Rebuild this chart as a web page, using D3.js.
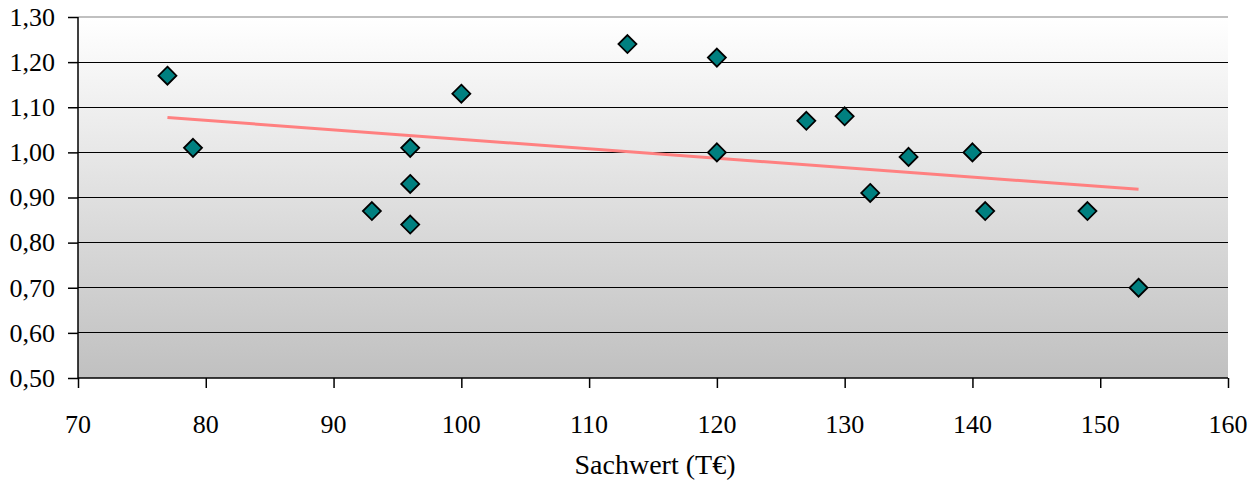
<!DOCTYPE html>
<html><head><meta charset="utf-8">
<script src="https://cdn.jsdelivr.net/npm/d3@7"></script>
<style>body{margin:0;background:#fff;}</style>
</head><body>
<svg id="c" width="1258" height="482"></svg>
<script>
const sachwert = [77,79,93,96,96,96,100,113,120,120,127,130,132,135,140,141,149,153];
const faktor   = [1.17,1.01,0.87,1.01,0.93,0.84,1.13,1.24,1.21,1.00,1.07,1.08,0.91,0.99,1.00,0.87,0.87,0.70];
const xTicks = [70,80,90,100,110,120,130,140,150,160];
const yTicks = [0.5,0.6,0.7,0.8,0.9,1.0,1.1,1.2,1.3];
const xTitle = "Sachwert (T€)";

const FONT = "Liberation Serif";
const svg = d3.select("#c");
const L=78, R=1228, T=17, B=378;
const x = d3.scaleLinear().domain([70,160]).range([L,R]);
const y = d3.scaleLinear().domain([0.5,1.3]).range([B,T]);

const defs = svg.append("defs");
const g = defs.append("linearGradient").attr("id","bg").attr("x1",0).attr("y1",0).attr("x2",0).attr("y2",1);
g.append("stop").attr("offset","0%").attr("stop-color","#ffffff");
g.append("stop").attr("offset","100%").attr("stop-color","#c0c0c0");
svg.append("rect").attr("x",L).attr("y",T).attr("width",R-L).attr("height",B-T).attr("fill","url(#bg)");

// gridlines
svg.append("g").selectAll("line").data(yTicks.filter(d=>d>0.5)).join("line")
  .attr("x1",L).attr("x2",R).attr("y1",d=>y(d)).attr("y2",d=>y(d))
  .attr("stroke",d=>d===1.3?"#c0c0c0":"#000").attr("stroke-width",d=>d===1.3?2:1)
  .attr("shape-rendering","crispEdges");

const fmt = d=>d3.format(".2f")(d).replace(".",",");
const ya = svg.append("g").attr("transform",`translate(${L},0)`)
  .call(d3.axisLeft(y).tickValues(yTicks).tickSize(10).tickFormat(""));
const xa = svg.append("g").attr("transform",`translate(0,${B})`)
  .call(d3.axisBottom(x).tickValues(xTicks).tickSize(10).tickFormat(""));
[ya,xa].forEach(a=>{
  a.select(".domain").attr("stroke","#000").attr("stroke-width",1.5);
  a.selectAll(".tick line").attr("stroke","#000").attr("stroke-width",1.5);
  a.selectAll(".tick text").remove();
});
xa.select(".domain").attr("d",`M${L},0H${R}`);
ya.select(".domain").attr("d",`M0,${T}V${B}`);

// tick labels positioned by the scales
svg.append("g").attr("class","ylabels").selectAll("text").data(yTicks).join("text")
  .attr("x",L-23).attr("y",d=>y(d)).attr("dy","0.34em").attr("text-anchor","end")
  .attr("font-family",FONT).attr("font-size",26).attr("fill","#000").text(fmt);
svg.append("g").attr("class","xlabels").selectAll("text").data(xTicks).join("text")
  .attr("x",d=>x(d)).attr("y",B+55).attr("text-anchor","middle")
  .attr("font-family",FONT).attr("font-size",26).attr("fill","#000").text(d3.format("d"));

svg.append("text").attr("x",655).attr("y",474).attr("text-anchor","middle")
  .attr("font-family",FONT).attr("font-size",28).attr("fill","#000").text(xTitle);

// trend line (least squares)
const n=sachwert.length, mx=d3.mean(sachwert), my=d3.mean(faktor);
let sxy=0,sxx=0; for(let i=0;i<n;i++){sxy+=(sachwert[i]-mx)*(faktor[i]-my); sxx+=(sachwert[i]-mx)**2;}
const b=sxy/sxx, a0=my-b*mx;
const x0=d3.min(sachwert), x1=d3.max(sachwert);
svg.append("line").attr("x1",x(x0)).attr("x2",x(x1)).attr("y1",y(a0+b*x0)).attr("y2",y(a0+b*x1))
  .attr("stroke","#ff8080").attr("stroke-width",3);

// markers
const s=9;
svg.append("g").selectAll("path").data(sachwert.map((d,i)=>[d,faktor[i]])).join("path")
  .attr("d",d=>`M${x(d[0])},${y(d[1])-s}L${x(d[0])+s},${y(d[1])}L${x(d[0])},${y(d[1])+s}L${x(d[0])-s},${y(d[1])}Z`)
  .attr("fill","#008080").attr("stroke","#000").attr("stroke-width",1.8);
</script>
</body></html>
